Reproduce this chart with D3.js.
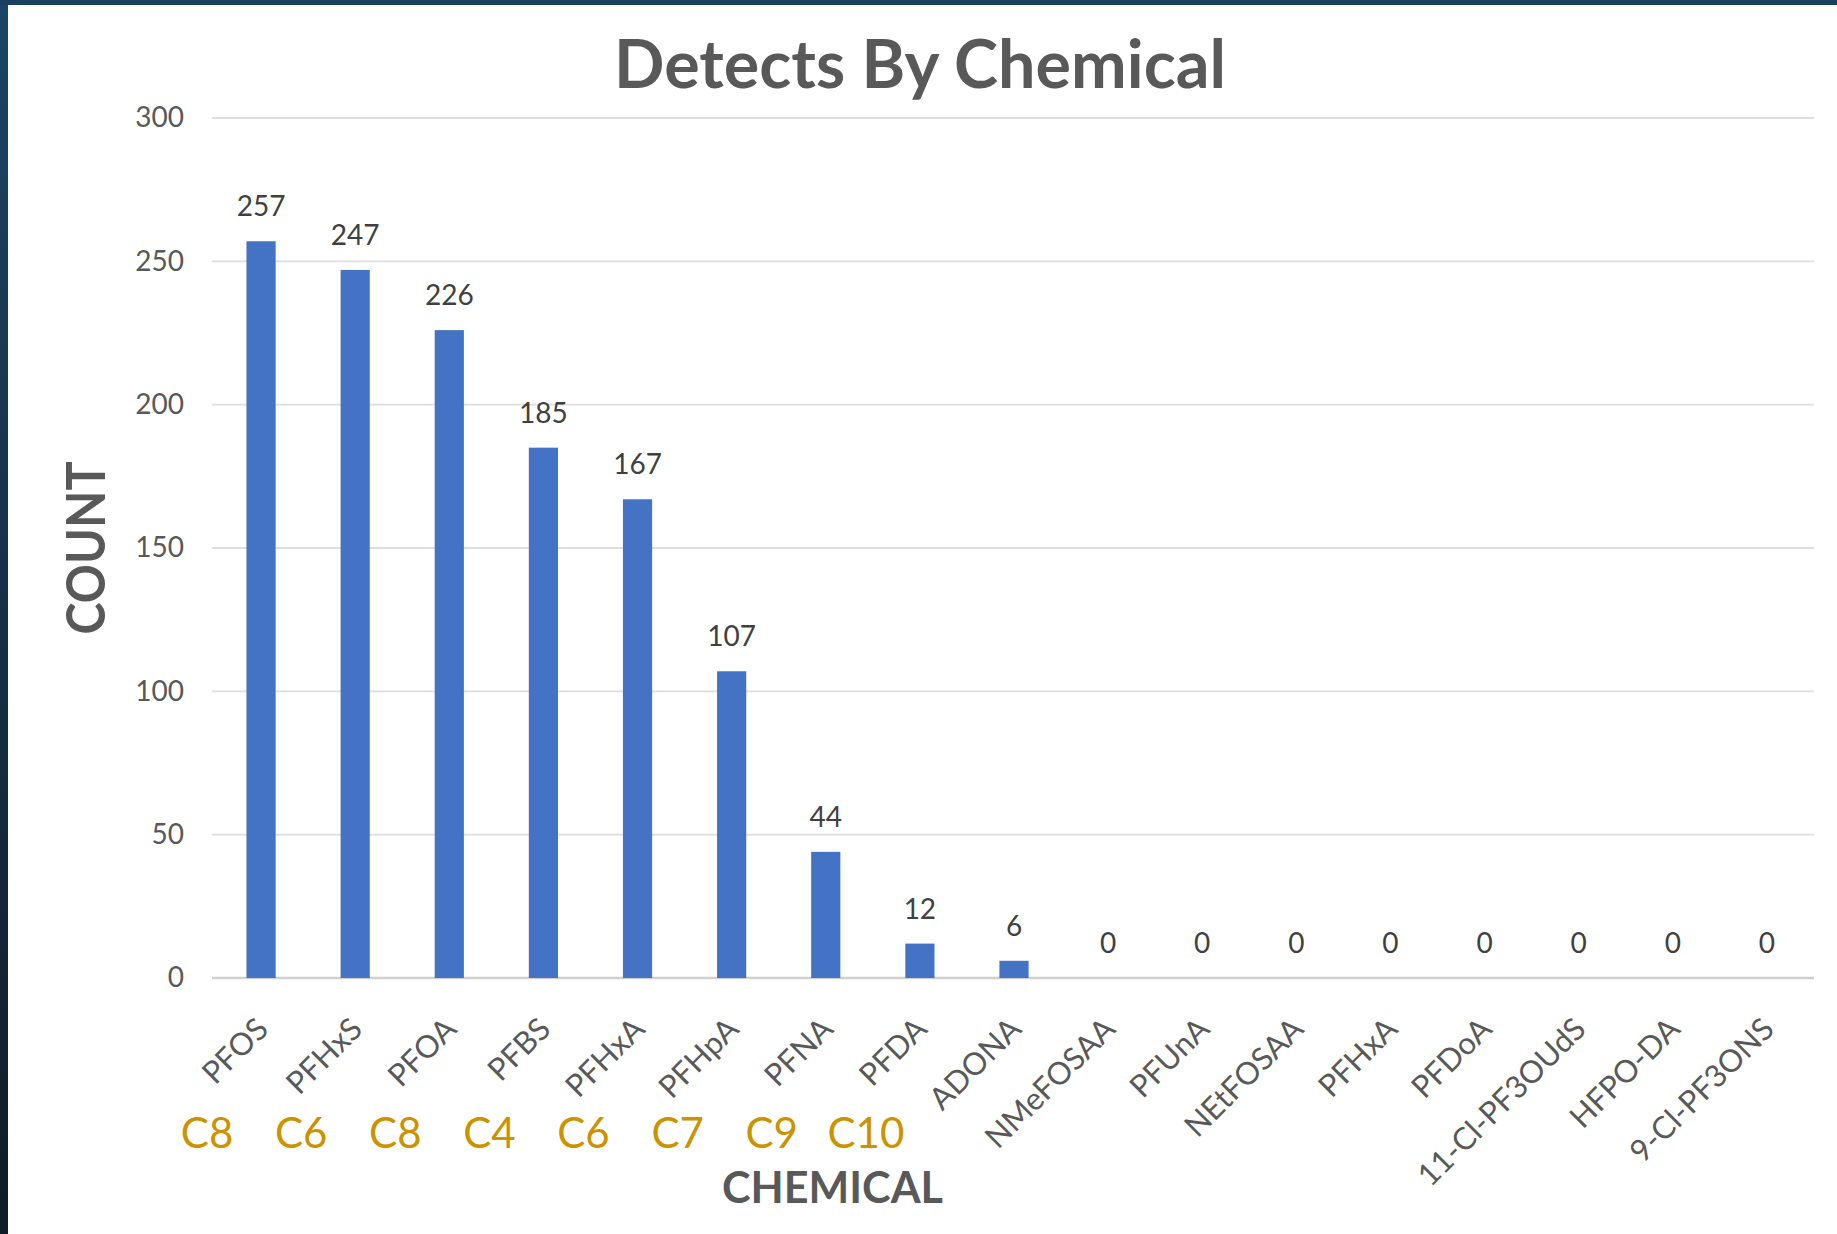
<!DOCTYPE html>
<html>
<head>
<meta charset="utf-8">
<script src="https://cdn.jsdelivr.net/npm/d3@7"></script>
<style>
    body { margin: 0; background: #ffffff; }
    svg { display: block; }
</style>
</head>
<body>
<svg id="svg" width="1837" height="1234"></svg>
<script>
// chart data
var chemicals = ["PFOS", "PFHxS", "PFOA", "PFBS", "PFHxA", "PFHpA", "PFNA", "PFDA", "ADONA",
    "NMeFOSAA", "PFUnA", "NEtFOSAA", "PFHxA", "PFDoA", "11-Cl-PF3OUdS", "HFPO-DA", "9-Cl-PF3ONS"];
var counts = [257, 247, 226, 185, 167, 107, 44, 12, 6, 0, 0, 0, 0, 0, 0, 0, 0];
// carbon chain length notes under the first labels
var carbons = ["C8", "C6", "C8", "C4", "C6", "C7", "C9", "C10"];
var yTicks = [0, 50, 100, 150, 200, 250, 300];

var chart_title = "Detects By Chemical";
var y_title = "COUNT";
var x_title = "CHEMICAL";

window.onload = function() {
    draw_chart();
};

/**
 * draws the bar chart with labels into svg
 */
function draw_chart() {
    var svg = d3.select("svg"),
        width = 1837,
        height = 1234,
        margin = {top: 118, right: 23, bottom: 256, left: 214};

    var font = "Lato, 'Open Sans', sans-serif";

    // dark frame round the white chart area
    var defs = svg.append("defs");
    var grad = defs.append("linearGradient")
        .attr("id", "frame")
        .attr("x1", 0).attr("y1", 0).attr("x2", 0).attr("y2", 1);
    grad.append("stop").attr("offset", "0%").attr("stop-color", "#1c4464");
    grad.append("stop").attr("offset", "100%").attr("stop-color", "#111b27");

    svg.append("rect")
        .attr("width", width)
        .attr("height", height)
        .attr("fill", "url(#frame)");
    svg.append("rect")
        .attr("x", 0)
        .attr("width", width)
        .attr("height", 5)
        .attr("fill", "#1b3f5e");
    svg.append("rect")
        .attr("x", 8)
        .attr("y", 5)
        .attr("width", width - 8)
        .attr("height", height - 5)
        .attr("fill", "#ffffff");

    var x = d3.scaleBand()
        .domain(d3.range(chemicals.length))
        .range([margin.left, width - margin.right])
        .padding(0);

    var y = d3.scaleLinear()
        .domain([0, 300])
        .range([height - margin.bottom, margin.top]);

    var barWidth = x.bandwidth() * 0.31;

    // gridlines
    svg.append("g")
        .attr("class", "grid")
        .selectAll("line")
        .data(yTicks)
        .enter().append("line")
        .attr("x1", margin.left - 2)
        .attr("x2", width - margin.right)
        .attr("y1", function (d) { return y(d); })
        .attr("y2", function (d) { return y(d); })
        .attr("stroke", function (d) { return d === 0 ? "#d0d0d0" : "#dedede"; })
        .attr("stroke-width", function (d) { return d === 0 ? 2.5 : 1.8; });

    // y axis, only tick labels are shown
    var yAxis = svg.append("g")
        .attr("transform", "translate(" + (margin.left - 2) + ",0)")
        .call(d3.axisLeft(y).tickValues(yTicks).tickSize(0).tickPadding(28));
    yAxis.select(".domain").remove();
    yAxis.selectAll("text")
        .attr("font-family", font)
        .attr("font-size", "28px")
        .attr("fill", "#595959");

    // bars
    svg.append("g")
        .selectAll("rect")
        .data(counts)
        .enter().append("rect")
        .attr("x", function (d, i) { return x(i) + x.bandwidth() / 2 - barWidth / 2; })
        .attr("y", function (d) { return y(d); })
        .attr("width", barWidth)
        .attr("height", function (d) { return y(0) - y(d); })
        .attr("fill", "#4472c4");

    // value labels above the bars
    svg.append("g")
        .selectAll("text")
        .data(counts)
        .enter().append("text")
        .attr("x", function (d, i) { return x(i) + x.bandwidth() / 2; })
        .attr("y", function (d) { return y(d) - 25; })
        .attr("text-anchor", "middle")
        .attr("font-family", font)
        .attr("font-size", "28px")
        .attr("fill", "#404040")
        .text(function (d) { return d; });

    // x axis with rotated labels
    var xAxis = svg.append("g")
        .attr("transform", "translate(0," + y(0) + ")")
        .call(d3.axisBottom(x).tickSize(0).tickFormat(function (i) { return chemicals[i]; }));
    xAxis.select(".domain").remove();
    xAxis.selectAll("text")
        .attr("font-family", font)
        .attr("font-size", "31px")
        .attr("fill", "#595959")
        .attr("text-anchor", "end")
        .attr("dy", null)
        .attr("y", 0)
        .attr("transform", "translate(9,53) rotate(-45)");

    // carbon notes in orange
    svg.append("g")
        .selectAll("text")
        .data(carbons)
        .enter().append("text")
        .attr("x", function (d, i) { return x(i) + x.bandwidth() / 2 - 54; })
        .attr("y", 1148)
        .attr("text-anchor", "middle")
        .attr("font-family", font)
        .attr("font-size", "42px")
        .attr("fill", "#cc9200")
        .text(function (d) { return d; });

    // chart title
    svg.append("text")
        .attr("x", 614)
        .attr("y", 88)
        .attr("font-family", font)
        .attr("font-weight", "bold")
        .attr("font-size", "67px")
        .attr("fill", "#595959")
        .attr("textLength", 612)
        .attr("lengthAdjust", "spacingAndGlyphs")
        .text(chart_title);

    // y axis title
    svg.append("text")
        .attr("transform", "translate(105,548) rotate(-90)")
        .attr("text-anchor", "middle")
        .attr("font-family", font)
        .attr("font-weight", "bold")
        .attr("font-size", "53px")
        .attr("fill", "#595959")
        .attr("textLength", 173)
        .attr("lengthAdjust", "spacingAndGlyphs")
        .text(y_title);

    // x axis title
    svg.append("text")
        .attr("x", 722)
        .attr("y", 1203)
        .attr("font-family", font)
        .attr("font-weight", "bold")
        .attr("font-size", "43px")
        .attr("fill", "#595959")
        .attr("textLength", 221)
        .attr("lengthAdjust", "spacingAndGlyphs")
        .text(x_title);
}
</script>
</body>
</html>
